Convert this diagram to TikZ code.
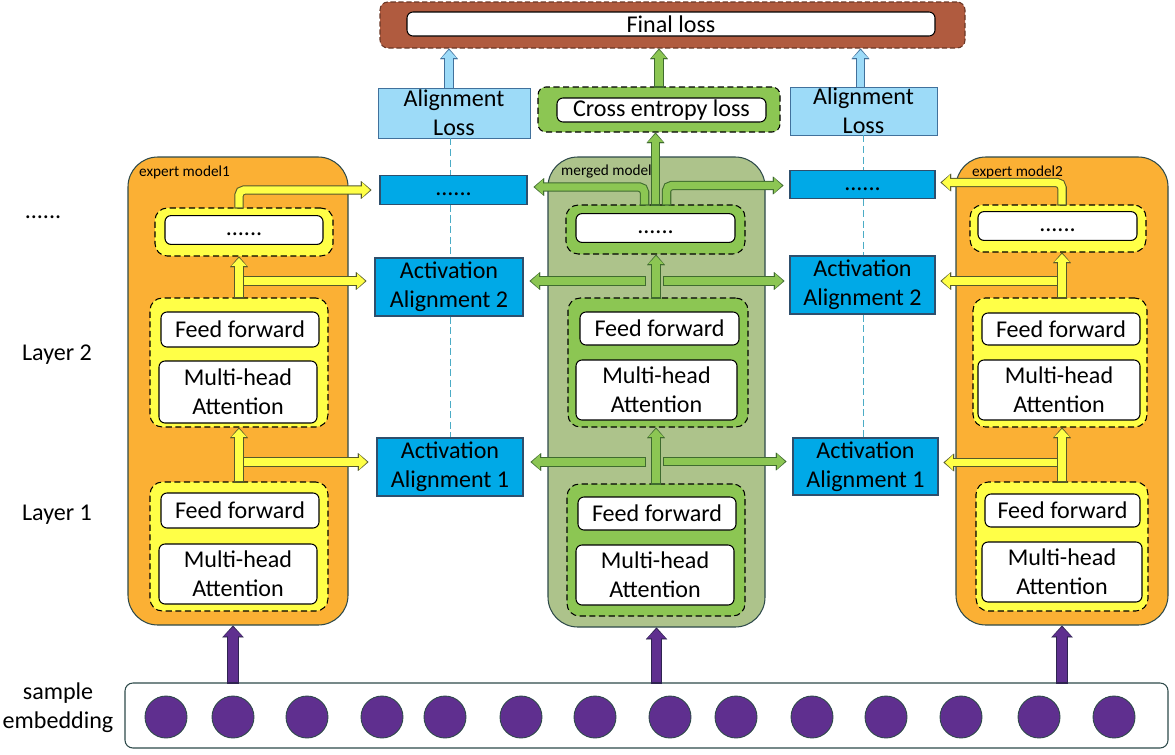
\documentclass[tikz,border=0pt]{standalone}
\usepackage{fontspec}
\setmainfont{Carlito}
\usetikzlibrary{arrows.meta,calc}

\definecolor{orng}{HTML}{FBB034}
\definecolor{mmgrn}{HTML}{ADC38B}
\definecolor{ylw}{HTML}{FFFF47}
\definecolor{grn}{HTML}{8CC653}
\definecolor{actblue}{HTML}{00A9E7}
\definecolor{lossblue}{HTML}{9DDBF8}
\definecolor{brwn}{HTML}{B05B3F}
\definecolor{purp}{HTML}{5F2F8F}
\definecolor{edge}{HTML}{2E4A4A}
\definecolor{yedge}{HTML}{55592A}
\definecolor{gedge}{HTML}{3F6B2F}
\definecolor{bedge}{HTML}{41719C}
\definecolor{pedge}{HTML}{2E2450}
\definecolor{dashblue}{HTML}{4BACC6}

\newcommand\txtbig{\fontsize{13.7pt}{16.4pt}\selectfont}
\newcommand\txtsmall{\fontsize{8.7pt}{10pt}\selectfont}

\begin{document}
\begin{tikzpicture}[x=0.02cm,y=-0.02cm,font=\txtbig,
    sz/.style 2 args={inner sep=0pt, align=center, minimum width=#1*0.02cm, minimum height=#2*0.02cm},
    whitebox/.style={draw=black, fill=white, line width=0.6pt, rounded corners=3.4pt},
    container/.style={draw=edge, line width=0.6pt, rounded corners=17pt},
    yblock/.style={draw=black, fill=ylw, line width=0.6pt, dash pattern=on 3.5pt off 2pt, rounded corners=7pt},
    gblock/.style={yblock, fill=grn},
    actbox/.style={draw=bedge!70!black, fill=actblue, line width=0.6pt},
    lossbox/.style={draw=bedge, fill=lossblue, line width=0.5pt},
    dashline/.style={draw=dashblue, line width=0.5pt, dash pattern=on 4pt off 2pt},
    dot/.style={circle, fill=purp, draw=edge, line width=0.5pt, minimum size=0.84cm, inner sep=0pt},
    fat/.style 2 args={draw=#1, line width=4.2pt, shorten >=0.9pt,
      -{Triangle[length=4.4pt,width=8.4pt,line width=0.01pt]},
      preaction={draw=#2, line width=5.4pt, shorten >=0pt, shorten <=-0.6pt,
        -{Triangle[length=6pt,width=10.2pt,line width=0.01pt]}}},
    fatwide/.style 2 args={draw=#1, line width=5.2pt, shorten >=0.9pt,
      -{Triangle[length=5.2pt,width=10.4pt,line width=0.01pt]},
      preaction={draw=#2, line width=6.4pt, shorten >=0pt, shorten <=-0.6pt,
        -{Triangle[length=6.8pt,width=12.2pt,line width=0.01pt]}}},
    yarr/.style={fat={ylw}{yedge}},
    garr/.style={fat={grn}{gedge}},
    barr/.style={fat={lossblue}{bedge}},
    parr/.style={fatwide={purp}{pedge}},
  ]
  \useasboundingbox (0,0) rectangle (1175,754);

  % losses on top
  \node[sz={585}{46}, fill=brwn, draw=brwn!60!black, line width=0.6pt, dash pattern=on 3pt off 1.5pt, rounded corners=4.5pt] (final) at (672.5,25) {};
  \node[sz={528}{24}, whitebox] (finaltxt) at (671,24) {Final loss};
  \node[sz={152}{50}, lossbox] (al) at (454,113) {Alignment\\Loss};
  \node[sz={147}{48}, lossbox] (ar) at (863.5,111) {Alignment\\Loss};
  \node[sz={242}{45}, gblock, rounded corners=4.5pt] (ce) at (659,109.5) {};
  \node[sz={209}{24}, whitebox] (cetxt) at (661.5,110) {Cross entropy loss};

  % alignment boxes
  \node[sz={147}{26}, actbox] (dl) at (453.5,190) {\strut......};
  \node[sz={148}{58}, actbox] (aa2l) at (449,287) {Activation\\Alignment 2};
  \node[sz={146}{58}, actbox] (aa1l) at (450,467) {Activation\\Alignment 1};
  \node[sz={145}{25}, actbox] (dr) at (862.5,184.5) {\strut......};
  \node[sz={145}{58}, actbox] (aa2r) at (862.5,285) {Activation\\Alignment 2};
  \node[sz={145}{57}, actbox] (aa1r) at (865.5,466.5) {Activation\\Alignment 1};

  \draw[dashline] ($(al.south)+(-4,0)$) -- ($(al.south |- dl.north)+(-4,0)$);
  \draw[dashline] ($(al.south |- dl.south)+(-4,0)$) -- ($(al.south |- aa2l.north)+(-4,0)$);
  \draw[dashline] ($(al.south |- aa2l.south)+(-4,0)$) -- ($(al.south |- aa1l.north)+(-4,0)$);
  \draw[dashline] (ar.south) -- (ar.south |- dr.north);
  \draw[dashline] (ar.south |- dr.south) -- (ar.south |- aa2r.north);
  \draw[dashline] (ar.south |- aa2r.south) -- (ar.south |- aa1r.north);

  % expert model1
  \node[sz={220}{468}, container, fill=orng] (e1) at (238,391) {};
  \node[anchor=west, font=\txtsmall] (e1lab) at (133,172) {expert model1};
  \node[sz={178}{48}, yblock] (e1dots) at (244,232) {};
  \node[sz={158}{26}, whitebox] (e1dotsw) at (244,230) {\strut......};
  \node[sz={178}{129}, yblock] (e1l2) at (239,362.5) {};
  \node[sz={158}{35}, whitebox] (e1ff2) at (240,329.5) {Feed forward};
  \node[sz={158}{62}, whitebox] (e1mh2) at (238,392) {Multi-head\\Attention};
  \node[sz={178}{129}, yblock] (e1l1) at (239,546.5) {};
  \node[sz={158}{35}, whitebox] (e1ff1) at (240,510.5) {Feed forward};
  \node[sz={158}{60}, whitebox] (e1mh1) at (238,574) {Multi-head\\Attention};

  % merged model
  \node[sz={217}{470}, container, fill=mmgrn] (mm) at (656.5,392) {};
  \node[anchor=west, font=\txtsmall] (mmlab) at (555,172) {merged model};
  \node[sz={179}{49}, gblock] (gdots) at (655.5,229.5) {};
  \node[sz={159}{24}, whitebox] (gdotsw) at (655.5,228) {\strut......};
  \node[sz={180}{129}, gblock] (g2) at (658,362.5) {};
  \node[sz={159}{33}, whitebox] (gff2) at (659.5,328.5) {Feed forward};
  \node[sz={161}{60}, whitebox] (gmh2) at (656.5,390) {Multi-head\\Attention};
  \node[sz={178}{132}, gblock] (g1) at (656,550) {};
  \node[sz={158}{33}, whitebox] (gff1) at (657,513.5) {Feed forward};
  \node[sz={158}{60}, whitebox] (gmh1) at (655,575) {Multi-head\\Attention};

  % expert model2
  \node[sz={212}{468}, container, fill=orng] (e2) at (1062,391) {};
  \node[anchor=west, font=\txtsmall] (e2lab) at (966,172) {expert model2};
  \node[sz={176}{47}, yblock] (rdots) at (1058,228.5) {};
  \node[sz={159}{24}, whitebox] (rdotsw) at (1057.5,226) {\strut......};
  \node[sz={174}{129}, yblock] (r2) at (1060,362.5) {};
  \node[sz={158}{32}, whitebox] (rff2) at (1061,329) {Feed forward};
  \node[sz={162}{60}, whitebox] (rmh2) at (1059,390) {Multi-head\\Attention};
  \node[sz={172}{129}, yblock] (r1) at (1062,546.5) {};
  \node[sz={155}{33}, whitebox] (rff1) at (1062.5,510.5) {Feed forward};
  \node[sz={160}{60}, whitebox] (rmh1) at (1062,572) {Multi-head\\Attention};

  % sample embedding
  \node[sz={1043}{65}, draw=edge, fill=white, line width=0.6pt, rounded corners=4.5pt] (emb) at (646.5,715.5) {};
  \foreach \cx [count=\i] in {166,233,307,382,445,521,595,670,736,812,886,961,1039,1114}
    \node[dot] (d\i) at (\cx,717) {};

  % side labels
  \node (toplab) at (43,217) {......};
  \node (lay2) at (57,355) {Layer 2};
  \node (lay1) at (57,515) {Layer 1};
  \node[align=center] (emblab) at (58,708) {sample\\embedding};

  % arrows of expert model1
  \draw[yarr] ($(e1l1.north |- aa1l.west)+(0,-5)$) -- ($(aa1l.west)+(-8,-5)$);
  \draw[yarr] (e1l1.north) -- (e1l1.north |- e1l2.south);
  \draw[yarr] ($(e1l1.north |- aa2l.west)+(0,-6)$) -- ($(aa2l.west)+(-8,-6)$);
  \draw[yarr] (e1l1.north |- e1l2.north) -- (e1l1.north |- e1dots.south);
  \draw[yarr, rounded corners=3pt] (e1l1.north |- e1dots.north) |- ($(dl.west)+(-8,0)$);

  % arrows of merged model
  \draw[garr] (g1.north) -- (g1.north |- g2.south);
  \draw[garr] ($(g1.north |- aa1l.east)+(-11,-5)$) -- ($(aa1l.east)+(7,-5)$);
  \draw[garr] ($(g1.north |- aa1r.west)+(8,-5)$) -- ($(aa1r.west)+(-6,-5)$);
  \draw[garr] (g1.north |- g2.north) -- (g1.north |- gdots.south);
  \draw[garr] ($(g1.north |- aa2l.east)+(-11,-6)$) -- ($(aa2l.east)+(6,-6)$);
  \draw[garr] ($(g1.north |- aa2r.west)+(8,-4)$) -- ($(aa2r.west)+(-5,-4)$);
  \draw[garr] (gdots.north) -- (gdots.north |- ce.south);
  \draw[garr, rounded corners=3pt] ($(gdots.north)+(-11,0)$) |- ($(dl.east)+(6,-3)$);
  \draw[garr, rounded corners=3pt] ($(gdots.north)+(11,0)$) |- ($(dr.west)+(-6,1)$);

  % arrows of expert model2
  \draw[yarr] ($(r1.north |- aa1r.east)+(0,-4)$) -- ($(aa1r.east)+(5,-4)$);
  \draw[yarr] (r1.north) -- (r1.north |- r2.south);
  \draw[yarr] ($(r1.north |- aa2r.east)+(0,-4)$) -- ($(aa2r.east)+(5,-4)$);
  \draw[yarr] (r1.north |- r2.north) -- (r1.north |- rdots.south);
  \draw[yarr, rounded corners=3pt] (r1.north |- rdots.north) |- ($(dr.east)+(5,-2)$);

  % up to the losses
  \draw[barr] ($(al.north)+(-5,0)$) -- ($(al.north |- final.south)+(-5,0)$);
  \draw[garr] (ce.north) -- (ce.north |- final.south);
  \draw[barr] ($(ar.north)+(-3,0)$) -- ($(ar.north |- final.south)+(-3,0)$);

  % embedding into the models
  \draw[parr] (emb.north -| d2) -- (e1.south -| d2);
  \draw[parr] (emb.north -| mm.south) -- (mm.south);
  \draw[parr] (emb.north -| e2.south) -- (e2.south);
\end{tikzpicture}
\end{document}
